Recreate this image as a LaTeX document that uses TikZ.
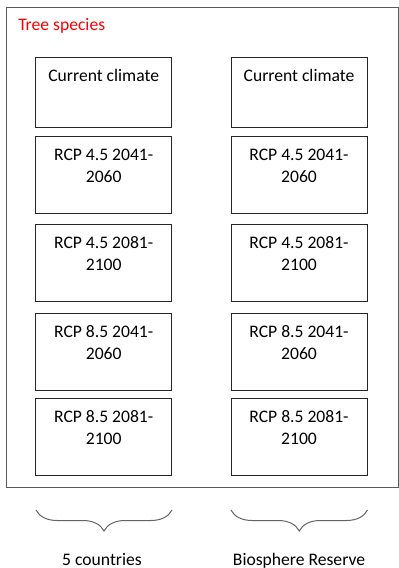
\documentclass[tikz,border=0pt]{standalone}
\usepackage{fontspec}
\setmainfont{Carlito}
\usetikzlibrary{decorations.pathreplacing}
\definecolor{framegray}{RGB}{90,90,90}
\definecolor{bracegray}{RGB}{100,100,100}
\tikzset{
  stepbox/.style={draw=black!85, line width=0.75pt, inner sep=0pt, minimum width=102pt},
  bracestyle/.style={draw=bracegray, line width=0.75pt, decorate, decoration={brace, mirror, amplitude=15.75pt}},
  lbl/.style={inner sep=0pt, anchor=base},
}
\newcommand{\boxtxt}[2]{\parbox[c][#1][t]{102pt}{\centering\rule{0pt}{18.4pt}#2}}
\begin{document}
\begin{tikzpicture}[x=0.75pt,y=-0.75pt,font=\fontsize{13.2pt}{16.5pt}\selectfont]
\useasboundingbox (0,0) rectangle (399,568);
\draw[draw=framegray, line width=0.75pt] (6,7) rectangle (398.5,487);
\node[lbl, anchor=base west, text=red] (title) at (18,30.5) {Tree species};
% left column
\node[stepbox] (l1) at (103.7,92) {\boxtxt{52.5pt}{Current climate}};
\node[stepbox] (l2) at (103.7,174.5) {\boxtxt{57.75pt}{RCP 4.5 2041-\\2060}};
\node[stepbox] (l3) at (103.7,262.5) {\boxtxt{57.75pt}{RCP 4.5 2081-\\2100}};
\node[stepbox] (l4) at (103.7,351.5) {\boxtxt{57.75pt}{RCP 8.5 2041-\\2060}};
\node[stepbox] (l5) at (103.7,436.5) {\boxtxt{57.75pt}{RCP 8.5 2081-\\2100}};
% right column
\node[stepbox] (r1) at (299,92) {\boxtxt{52.5pt}{Current climate}};
\node[stepbox] (r2) at (299,174.5) {\boxtxt{57.75pt}{RCP 4.5 2041-\\2060}};
\node[stepbox] (r3) at (299,262.5) {\boxtxt{57.75pt}{RCP 4.5 2081-\\2100}};
\node[stepbox] (r4) at (299,351.5) {\boxtxt{57.75pt}{RCP 8.5 2041-\\2060}};
\node[stepbox] (r5) at (299,436.5) {\boxtxt{57.75pt}{RCP 8.5 2081-\\2100}};
% braces
\coordinate (lb1) at (36,510);
\coordinate (lb2) at (172,510);
\coordinate (rb1) at (231,510);
\coordinate (rb2) at (367.5,510);
\draw[bracestyle] (lb1) -- (lb2);
\draw[bracestyle] (rb1) -- (rb2);
\node[lbl] (c5) at (102,565) {5 countries};
\node[lbl] (bio) at (299,565) {Biosphere Reserve};
\end{tikzpicture}
\end{document}
